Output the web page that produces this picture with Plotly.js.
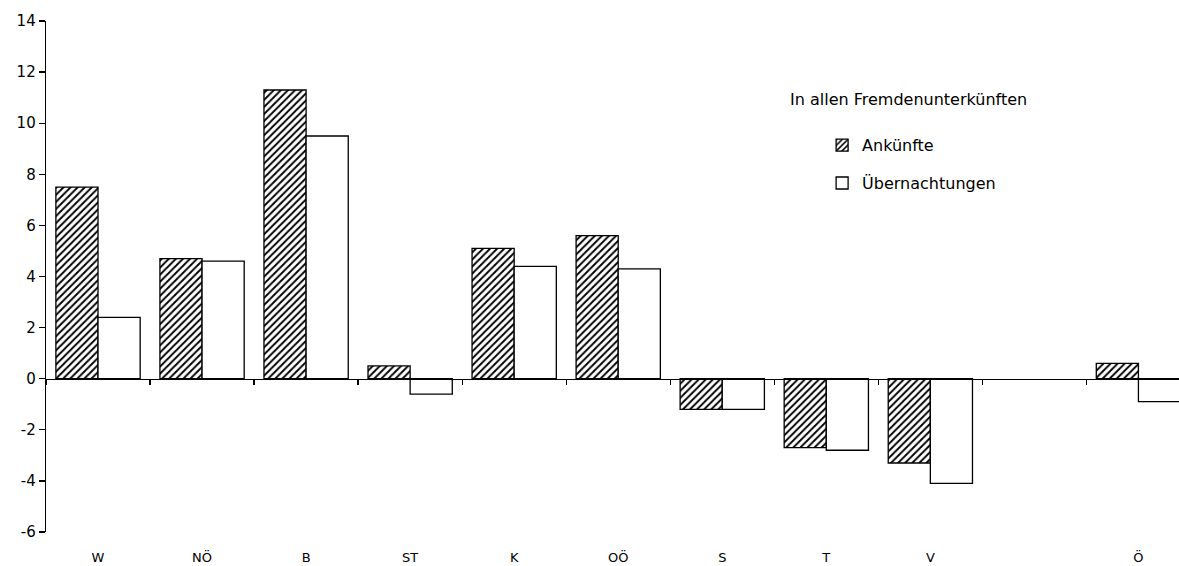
<!DOCTYPE html>
<html>
<head>
<meta charset="utf-8">
<script src="https://cdn.plot.ly/plotly-3.0.1.min.js"></script>
<style>html,body{margin:0;padding:0;background:#fff;overflow:hidden}#chart{width:1179px;height:566px}</style>
</head>
<body>
<div id="chart"></div>
<script>
const categories = ["W", "NÖ", "B", "ST", "K", "OÖ", "S", "T", "V", " ", "Ö"];
const ankuenfte = [7.5, 4.7, 11.3, 0.5, 5.1, 5.6, -1.2, -2.7, -3.3, null, 0.6];
const uebernachtungen = [2.4, 4.6, 9.5, -0.6, 4.4, 4.3, -1.2, -2.8, -4.1, null, -0.9];
const yTicks = [-6, -4, -2, 0, 2, 4, 6, 8, 10, 12, 14];
const yTickText = ["-6", "-4", "-2", "0", "2", "4", "6", "8", "10", "12", "14"];
const legendTitle = "In allen Fremdenunterkünften";

const FONT = "DejaVu Sans, sans-serif";
const xr = [-0.5, 10.39];

const traces = [
  {
    type: "bar", name: "Ankünfte", x: categories, y: ankuenfte,
    legendgroup: "a",
    marker: {color: "#ffffff", line: {color: "#000", width: 1.3},
      pattern: {shape: "/", fgcolor: "#000", bgcolor: "#ffffff", size: 5, solidity: 0.38}},
    hoverinfo: "x+y"
  },
  {
    type: "bar", name: "Übernachtungen", x: categories, y: uebernachtungen,
    legendgroup: "b",
    marker: {color: "#ffffff", line: {color: "#000", width: 1.3}},
    hoverinfo: "x+y"
  },
  {
    // label carrier for the bottom category labels (no marks drawn)
    type: "scatter", mode: "none", xaxis: "x2", yaxis: "y",
    x: categories.map((c, i) => i), y: categories.map(() => null),
    showlegend: false, hoverinfo: "skip"
  }
];

const layout = {
  width: 1179, height: 566,
  margin: {l: 46, r: 0, t: 21, b: 34},
  paper_bgcolor: "#fff", plot_bgcolor: "#fff",
  barmode: "group", bargap: 0.19, bargroupgap: 0,
  font: {family: FONT, size: 14, color: "#000"},
  xaxis: {
    type: "category", categoryorder: "array", categoryarray: categories,
    range: xr, anchor: "free", position: 0.3,
    showline: true, linecolor: "#000", linewidth: 1.6,
    ticks: "outside", tickson: "boundaries", ticklen: 5, tickwidth: 1.3, tickcolor: "#000",
    showticklabels: false, showgrid: false, zeroline: false, fixedrange: true
  },
  xaxis2: {
    overlaying: "x", anchor: "y", side: "bottom", type: "linear",
    range: xr, tickmode: "array",
    tickvals: categories.map((c, i) => i), ticktext: categories,
    showline: false, ticks: "", showgrid: false, zeroline: false,
    ticklabelstandoff: 16,
    tickfont: {family: FONT, size: 13, color: "#000"}
  },
  yaxis: {
    range: [-6, 14], tickmode: "array", tickvals: yTicks, ticktext: yTickText,
    showline: true, linecolor: "#000", linewidth: 1.3,
    ticks: "outside", ticklen: 6, tickwidth: 1.3, tickcolor: "#000",
    showgrid: false, zeroline: false,
    tickfont: {family: FONT, size: 15, color: "#000"}, fixedrange: true
  },
  showlegend: true,
  legend: {
    x: 0.685, y: 0.79, xanchor: "left", yanchor: "top",
    traceorder: "grouped", tracegroupgap: 14,
    font: {family: FONT, size: 16, color: "#000"},
    bgcolor: "rgba(0,0,0,0)", itemwidth: 30
  },
  annotations: [{
    text: legendTitle, xref: "paper", yref: "paper",
    x: 0.655, y: 0.847, xanchor: "left", yanchor: "middle", showarrow: false,
    font: {family: FONT, size: 16, color: "#000"}
  }]
};

Plotly.newPlot("chart", traces, layout, {displayModeBar: false, staticPlot: true});
</script>
</body>
</html>
